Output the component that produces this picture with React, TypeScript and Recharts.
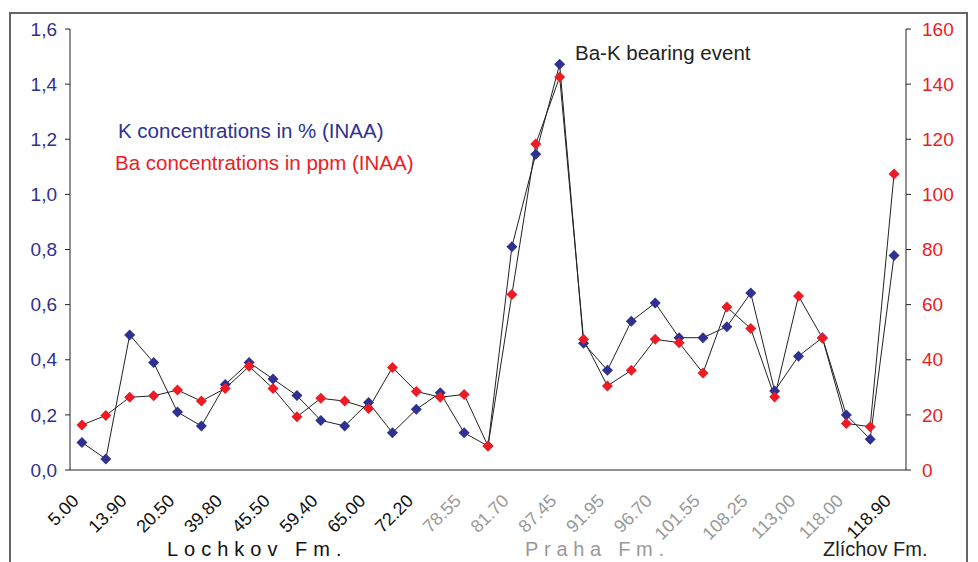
import React from 'react';
import { LineChart, Line, XAxis, YAxis } from 'recharts';

const depthLabels = [
  '5.00', '13.90', '20.50', '39.80', '45.50', '59.40', '65.00', '72.20', '78.55',
  '81.70', '87.45', '91.95', '96.70', '101.55', '108.25', '113,00', '118.00', '118.90',
];
// label colour group: Lochkov (black), Praha (grey), Zlíchov (black)
const labelGroup = [0, 0, 0, 0, 0, 0, 0, 0, 1, 1, 1, 1, 1, 1, 1, 1, 1, 0];

const kValues = [
  0.10, 0.04, 0.49, 0.39, 0.21, 0.16, 0.31, 0.39, 0.33, 0.27, 0.18, 0.16,
  0.245, 0.135, 0.22, 0.28, 0.135, 0.087, 0.81, 1.146, 1.472, 0.46, 0.362,
  0.54, 0.606, 0.48, 0.48, 0.52, 0.642, 0.287, 0.413, 0.48, 0.2, 0.112, 0.778,
];
const baValues = [
  16.3, 19.8, 26.4, 26.9, 29.0, 25.0, 29.6, 37.6, 29.6, 19.3, 26.0, 25.0,
  22.3, 37.2, 28.5, 26.4, 27.4, 8.7, 63.7, 118.3, 142.6, 47.4, 30.5, 36.2,
  47.4, 46.2, 35.2, 59.1, 51.3, 26.5, 63.1, 47.9, 16.9, 15.7, 107.4,
];
const leftTicks = [0, 0.2, 0.4, 0.6, 0.8, 1.0, 1.2, 1.4, 1.6];
const rightTicks = [0, 20, 40, 60, 80, 100, 120, 140, 160];

const BLUE = '#2e3192';
const RED = '#ed1c24';
const GREY = '#999999';
const FONT = 'Arial, "Liberation Sans", sans-serif';

const nCat = kValues.length;
const data = kValues.map((k, i) => ({ x: i + 0.5, k, ba: baValues[i] }));
const boundaryTicks = Array.from({ length: nCat + 1 }, (_, i) => i);
const labelTicks = depthLabels.map((_, j) => j * 2 + 0.5);

function Diamond(color: string) {
  return (props: { cx?: number; cy?: number; index?: number }) => {
    const { cx, cy } = props;
    if (cx == null || cy == null) return <g key={props.index} />;
    const r = 5.5;
    return (
      <polygon
        key={props.index}
        points={`${cx},${cy - r} ${cx + r},${cy} ${cx},${cy + r} ${cx - r},${cy}`}
        fill={color}
      />
    );
  };
}

function DepthTick(props: { x?: number; y?: number; payload?: { value: number } }) {
  const { x = 0, y = 0, payload } = props;
  const j = Math.round(((payload?.value ?? 0.5) - 0.5) / 2);
  return (
    <g transform={`translate(${x - 2},${y + 14})`}>
      <text
        textAnchor="end"
        transform="rotate(-45)"
        fontSize={18}
        fontFamily={FONT}
        fill={labelGroup[j] ? GREY : '#111'}
      >
        {depthLabels[j]}
      </text>
    </g>
  );
}

export default function App() {
  return (
    <div style={{ position: 'absolute', left: 0, top: 0, width: 978, height: 562, overflow: 'hidden', background: '#fff' }}>
      <div style={{ position: 'absolute', left: 9, top: 12, width: 955, height: 600, border: '2px solid #666' }} />
      <div style={{ position: 'absolute', left: 0, top: 0 }}>
        <LineChart width={978} height={562} data={data} margin={{ top: 29, right: 12, left: 10, bottom: 0 }}>
          <XAxis
            xAxisId="a"
            dataKey="x"
            type="number"
            domain={[0, nCat]}
            ticks={boundaryTicks}
            tick={false}
            tickSize={6}
            height={10}
            stroke="#222"
          />
          <XAxis
            xAxisId="b"
            dataKey="x"
            type="number"
            domain={[0, nCat]}
            ticks={labelTicks}
            tick={<DepthTick />}
            tickLine={false}
            axisLine={false}
            interval={0}
            height={82}
          />
          <YAxis
            yAxisId="left"
            domain={[0, 1.6]}
            ticks={leftTicks}
            tickFormatter={(v: number) => v.toFixed(1).replace('.', ',')}
            tick={{ fill: BLUE, fontSize: 19, fontFamily: FONT }}
            tickSize={5}
            tickMargin={8}
            width={60}
            stroke="#222"
            interval={0}
          />
          <YAxis
            yAxisId="right"
            orientation="right"
            domain={[0, 160]}
            ticks={rightTicks}
            tick={{ fill: RED, fontSize: 19, fontFamily: FONT }}
            tickSize={5}
            tickMargin={11}
            width={60}
            stroke="#222"
            interval={0}
          />
          <Line
            xAxisId="a"
            yAxisId="left"
            dataKey="k"
            stroke="#222"
            strokeWidth={1}
            dot={Diamond(BLUE)}
            activeDot={false}
            isAnimationActive={false}
          />
          <Line
            xAxisId="b"
            yAxisId="right"
            dataKey="ba"
            stroke="#222"
            strokeWidth={1}
            dot={Diamond(RED)}
            activeDot={false}
            isAnimationActive={false}
          />
        </LineChart>
      </div>
      <div style={{ position: 'absolute', left: 118, top: 119, color: BLUE, fontSize: 20.5, fontFamily: FONT }}>
        K concentrations in % (INAA)
      </div>
      <div style={{ position: 'absolute', left: 115, top: 151, color: RED, fontSize: 20.5, fontFamily: FONT }}>
        Ba concentrations in ppm (INAA)
      </div>
      <div style={{ position: 'absolute', left: 575, top: 41, color: '#222', fontSize: 20.5, fontFamily: FONT }}>
        Ba-K bearing event
      </div>
      <div style={{ position: 'absolute', left: 167, top: 538, color: '#111', fontSize: 20, fontFamily: FONT, letterSpacing: 6 }}>
        Lochkov Fm.
      </div>
      <div style={{ position: 'absolute', left: 525, top: 538, color: GREY, fontSize: 20, fontFamily: FONT, letterSpacing: 5.7 }}>
        Praha Fm.
      </div>
      <div style={{ position: 'absolute', left: 823, top: 538, color: '#222', fontSize: 20, fontFamily: FONT }}>
        Zlíchov Fm.
      </div>
    </div>
  );
}
